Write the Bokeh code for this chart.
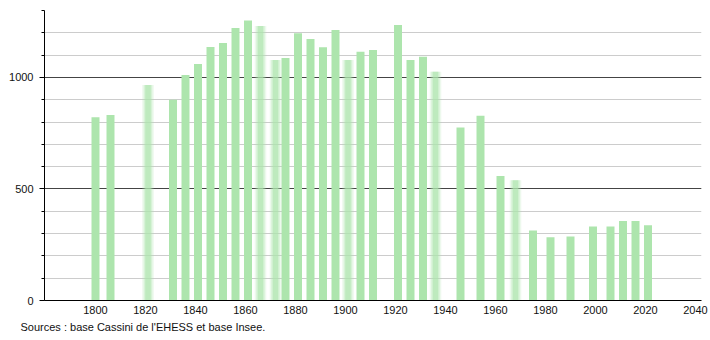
from bokeh.plotting import figure
from bokeh.models import Range1d, FixedTicker, Grid, Title, ColumnDataSource
from bokeh.embed import file_html
from bokeh.resources import INLINE

years = [1800, 1806, 1821, 1831, 1836, 1841, 1846, 1851, 1856, 1861, 1866, 1872,
         1876, 1881, 1886, 1891, 1896, 1901, 1906, 1911, 1921, 1926, 1931, 1936,
         1946, 1954, 1962, 1968, 1975, 1982, 1990, 1999, 2006, 2011, 2016, 2021]
population = [822, 831, 966, 900, 1011, 1060, 1136, 1154, 1221, 1255, 1230, 1078,
              1087, 1198, 1172, 1135, 1213, 1078, 1115, 1123, 1235, 1078, 1093, 1025,
              776, 828, 558, 539, 314, 283, 287, 332, 332, 356, 356, 337]
blurred_years = [1821, 1866, 1872, 1901, 1936, 1968]
x_ticks = list(range(1800, 2041, 20))
y_major = [0, 500, 1000]
y_minor = list(range(0, 1301, 100))
source_text = "Sources : base Cassini de l'EHESS et base Insee."

BAR = "#ade5ad"
FONT = "Liberation Sans"

p = figure(width=710, height=340, output_backend="svg", toolbar_location=None,
           x_range=Range1d(1779.6, 2042.4), y_range=Range1d(0, 1300),
           min_border_left=44, min_border_right=9, min_border_top=10, min_border_bottom=40)
p.outline_line_color = None
p.background_fill_color = "white"
p.border_fill_color = "white"

sharp_x = [y for y in years if y not in blurred_years]
sharp_v = [v for y, v in zip(years, population) if y not in blurred_years]
blur_x = [y for y in years if y in blurred_years]
blur_v = [v for y, v in zip(years, population) if y in blurred_years]

p.vbar(x=sharp_x, top=sharp_v, bottom=0, width=3.2, fill_color=BAR, line_color=None)
bs = ColumnDataSource(dict(x=blur_x, top=blur_v))
for w, a in [(4.6, 0.22), (3.4, 0.35), (2.2, 0.6)]:
    p.vbar(x="x", top="top", bottom=0, width=w, fill_color=BAR, fill_alpha=a,
           line_color=None, source=bs)

# grids
p.xgrid.visible = False
p.ygrid.ticker = FixedTicker(ticks=y_minor)
p.ygrid.grid_line_color = "#cccccc"
p.ygrid.grid_line_width = 1
dark = Grid(dimension=1, ticker=FixedTicker(ticks=[500, 1000]),
            grid_line_color="#444444", grid_line_width=1)
p.add_layout(dark)

# y axis
p.yaxis.ticker = FixedTicker(ticks=y_major, minor_ticks=y_minor)
p.yaxis.major_tick_out = 5
p.yaxis.major_tick_in = 0
p.yaxis.minor_tick_out = 3
p.yaxis.minor_tick_in = 0
p.yaxis.axis_line_color = "black"
p.yaxis.major_tick_line_color = "black"
p.yaxis.minor_tick_line_color = "black"
p.yaxis.major_label_text_font = FONT
p.yaxis.major_label_text_font_size = "11px"
p.yaxis.major_label_text_color = "#111111"
p.yaxis.major_label_standoff = 6

# x axis
p.xaxis.ticker = FixedTicker(ticks=x_ticks)
p.xaxis.major_tick_out = 0
p.xaxis.major_tick_in = 0
p.xaxis.minor_tick_line_color = None
p.xaxis.axis_line_color = "black"
p.xaxis.major_label_text_font = FONT
p.xaxis.major_label_text_font_size = "11px"
p.xaxis.major_label_text_color = "#111111"
p.xaxis.major_label_standoff = 5

src = Title(text=source_text, align="left", offset=-24, standoff=4,
            text_font=FONT, text_font_size="11px", text_font_style="normal",
            text_color="#111111")
p.add_layout(src, "below")

open("out.html", "w").write(file_html(p, INLINE))
